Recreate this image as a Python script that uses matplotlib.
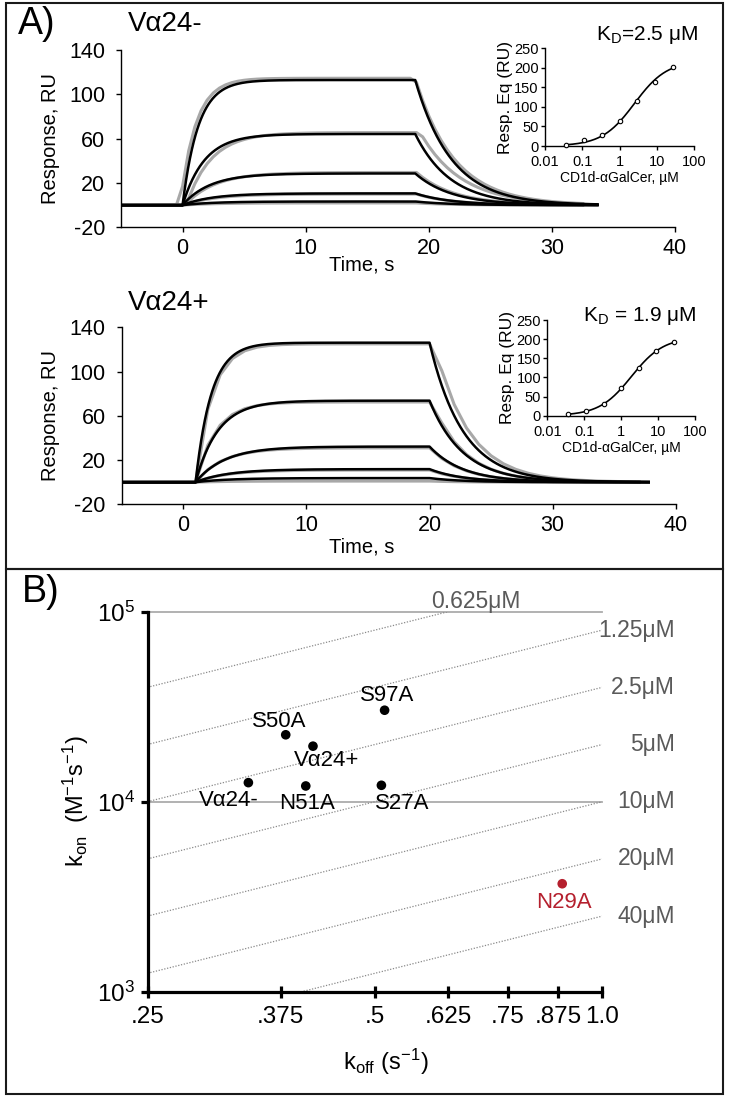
import numpy as np
import matplotlib
matplotlib.use("Agg")
import matplotlib.pyplot as plt
from matplotlib.patches import Rectangle
from matplotlib.ticker import FixedLocator, NullLocator, LogLocator, NullFormatter

plt.rcParams['font.family'] = ['Liberation Sans', 'DejaVu Sans']
plt.rcParams['mathtext.fontset'] = 'custom'
plt.rcParams['mathtext.rm'] = 'Liberation Sans'
plt.rcParams['mathtext.it'] = 'Liberation Sans:italic'
plt.rcParams['mathtext.bf'] = 'Liberation Sans:bold'
plt.rcParams['axes.unicode_minus'] = False

# ---------------- panel A : sensorgrams (1:1 fits)
# Va24-  (fit = black, raw = grey)
minus_t_on, minus_t_off, minus_t_end, minus_raw_end = 0.0, 18.9, 33.7, 32.8
minus_req = [112.9, 64.2, 28.6, 10.6, 3.3]
minus_kobs = [0.78, 0.56, 0.45, 0.42, 0.40]
minus_koff = [0.34, 0.35, 0.34, 0.34, 0.34]
minus_raw_on = [-0.2, 0.3, 0.2, 0.1, 0.0]
minus_raw_req = [114.5, 65.5, 29.5, 10.0, 2.0]
minus_raw_kobs = [0.80, 0.50, 0.42, 0.40, 0.40]
minus_raw_off = [18.9, 19.3, 19.0, 19.0, 19.0]
minus_raw_koff = [0.32, 0.30, 0.33, 0.34, 0.34]

# Va24+
plus_t_on, plus_t_off, plus_t_end, plus_raw_end = 1.0, 20.0, 37.8, 37.8
plus_req = [126.1, 73.7, 32.2, 11.8, 3.7]
plus_kobs = [0.78, 0.55, 0.42, 0.38, 0.37]
plus_koff = [0.37, 0.37, 0.37, 0.37, 0.37]
plus_raw_on = [1.0, 1.0, 1.0, 1.0, 1.0]
plus_raw_req = [125.0, 72.5, 31.0, 11.0, 1.0]
plus_raw_kobs = [0.75, 0.62, 0.46, 0.40, 0.40]
plus_raw_off = [20.4, 20.2, 20.0, 20.0, 20.0]
plus_raw_koff = [0.36, 0.38, 0.37, 0.37, 0.37]

# insets: steady state response vs CD1d-aGalCer (uM)
conc = [0.037, 0.111, 0.333, 1.0, 3.0, 9.0, 27.0]
minus_eq = [2, 15, 28, 65, 116, 165, 201]
plus_eq = [4, 11, 31, 72, 124, 169, 192]
kd_minus, rmax_minus = 2.5, 218.0
kd_plus, rmax_plus = 1.9, 205.0

# ---------------- panel B : kon / koff map
mutants = ['Vα24-', 'Vα24+', 'S50A', 'N51A', 'S97A', 'S27A', 'N29A']
koff_vals = [0.340, 0.414, 0.381, 0.405, 0.515, 0.510, 0.885]
kon_vals = [1.26e4, 1.96e4, 2.25e4, 1.21e4, 3.03e4, 1.22e4, 3.7e3]
mut_colors = ['black'] * 6 + ['#b5202e']
lab_offsets = [(-14.2, -13.2), (9.6, -10.3), (-4.9, 9.8), (0.7, -12.5),
               (2.0, 10.8), (15.3, -13.0), (1.2, -13.8)]
kd_lines = [0.625, 1.25, 2.5, 5, 10, 20, 40]
kd_labels = ['0.625μM', '1.25μM', '2.5μM', '5μM', '10μM', '20μM', '40μM']
kd_scale = 1e-5  # iso-affinity lines as drawn in the original
koff_ticks = [0.25, 0.375, 0.5, 0.625, 0.75, 0.875, 1.0]
koff_ticklabels = ['.25', '.375', '.5', '.625', '.75', '.875', '1.0']

W, H = 729.0, 1100.0
fig = plt.figure(figsize=(W / 100, H / 100), dpi=100)


def box(l, t, r, b):
    return [l / W, 1 - b / H, (r - l) / W, (b - t) / H]


def fpos(x, y):
    return x / W, 1 - y / H


def response(t, t_on, t_off, req, kobs, koff):
    r = np.zeros_like(t)
    a = (t >= t_on) & (t <= t_off)
    r[a] = req * (1 - np.exp(-kobs * (t[a] - t_on)))
    r_off = req * (1 - np.exp(-kobs * (t_off - t_on)))
    d = t > t_off
    r[d] = r_off * np.exp(-koff * (t[d] - t_off))
    return r


def sensorgram(ax, t_on, t_off, t_end, req, kobs, koff,
               raw_end, raw_on, raw_req, raw_kobs, raw_off, raw_koff, raw_step):
    tr = np.arange(-5, raw_end + 1e-6, raw_step)
    for i in range(len(raw_req)):
        ax.plot(tr, response(tr, raw_on[i], raw_off[i], raw_req[i], raw_kobs[i], raw_koff[i]),
                color='#a8a8a8', lw=2.2, solid_joinstyle='round', zorder=2)
    t = np.arange(-5, t_end + 1e-6, 0.05)
    for i in range(len(req)):
        ax.plot(t, response(t, t_on, t_off, req[i], kobs[i], koff[i]),
                color='black', lw=1.8, zorder=3)
    ax.set_xlim(-5, 40)
    ax.set_ylim(-20, 140)
    ax.set_xticks([0, 10, 20, 30, 40])
    ax.set_yticks([-20, 20, 60, 100, 140])
    for s in ['top', 'right']:
        ax.spines[s].set_visible(False)
    for s in ['left', 'bottom']:
        ax.spines[s].set_linewidth(1.0)
    ax.tick_params(axis='both', direction='out', length=3.5, width=1.0, labelsize=15.5)
    ax.tick_params(axis='y', pad=8)
    ax.tick_params(axis='x', pad=4)
    ax.patch.set_alpha(0)


def inset(ax, eq, kd, rmax):
    cc = np.logspace(np.log10(conc[0]), np.log10(conc[-1]), 200)
    ax.plot(cc, rmax * cc / (kd + cc), color='black', lw=1.2, zorder=2)
    ax.plot(conc, eq, 'o', ms=3.2, mfc='white', mec='black', mew=0.8, zorder=3, clip_on=False)
    ax.set_xscale('log')
    ax.set_xlim(0.01, 100)
    ax.set_ylim(0, 250)
    ax.set_xticks([0.01, 0.1, 1, 10, 100])
    ax.set_xticklabels(['0.01', '0.1', '1', '10', '100'])
    ax.xaxis.set_minor_locator(LogLocator(base=10, subs=np.arange(2, 10)))
    ax.xaxis.set_minor_formatter(NullFormatter())
    ax.set_yticks([0, 50, 100, 150, 200, 250])
    for s in ['top', 'right']:
        ax.spines[s].set_visible(False)
    for s in ['left', 'bottom']:
        ax.spines[s].set_linewidth(1.0)
    ax.tick_params(axis='both', which='major', direction='out', length=3, width=1.0,
                   labelsize=10.5)
    ax.tick_params(axis='y', which='major', pad=1.5)
    ax.tick_params(axis='x', which='major', pad=3.5)
    ax.tick_params(axis='x', which='minor', direction='out', length=2, width=0.7)
    ax.set_ylabel('Resp. Eq (RU)', fontsize=12.5, labelpad=1)
    ax.set_xlabel('CD1d-αGalCer, µM', fontsize=10, labelpad=1.5)
    ax.patch.set_alpha(0)


# ---- panel A
ax1 = fig.add_axes(box(121, 50, 675, 227.3))
sensorgram(ax1, minus_t_on, minus_t_off, minus_t_end, minus_req, minus_kobs, minus_koff,
           minus_raw_end, minus_raw_on, minus_raw_req, minus_raw_kobs, minus_raw_off,
           minus_raw_koff, 0.5)
ax2 = fig.add_axes(box(121.7, 327.3, 675.8, 504.3))
sensorgram(ax2, plus_t_on, plus_t_off, plus_t_end, plus_req, plus_kobs, plus_koff,
           plus_raw_end, plus_raw_on, plus_raw_req, plus_raw_kobs, plus_raw_off,
           plus_raw_koff, 1.0)

in1 = fig.add_axes(box(545, 48.3, 694.3, 146))
inset(in1, minus_eq, kd_minus, rmax_minus)
in2 = fig.add_axes(box(547.3, 320, 695, 415.7))
inset(in2, plus_eq, kd_plus, rmax_plus)

fig.text(*fpos(18, 24), 'A)', fontsize=27, ha='left', va='center')
fig.text(*fpos(128, 24), 'Vα24-', fontsize=20, ha='left', va='center')
fig.text(*fpos(128, 303), 'Vα24+', fontsize=20, ha='left', va='center')
fig.text(*fpos(698, 35), r'K$_{\rm D}$=2.5 μM', fontsize=15, ha='right', va='center')
fig.text(*fpos(697, 316), r'K$_{\rm D}$ = 1.9 μM', fontsize=15, ha='right', va='center')
for yc in [138.6, 415.8]:
    fig.text(*fpos(51, yc), 'Response, RU', fontsize=14.5, rotation=90, ha='center', va='center')
for yc in [265, 546.7]:
    fig.text(*fpos(362, yc), 'Time, s', fontsize=14.5, ha='center', va='center')

# ---- panel B
axb = fig.add_axes(box(147.5, 611.7, 602.3, 991.7))
axb.set_xscale('log')
axb.set_yscale('log')
axb.set_xlim(0.25, 1.0)
axb.set_ylim(1e3, 1e5)

for y in [1e5, 1e4]:
    axb.plot([0.25, 1.0], [y, y], color='#ababab', lw=1.3, zorder=1, clip_on=False)
kline = np.array([0.25, 1.0])
for kd, lab in zip(kd_lines, kd_labels):
    axb.plot(kline, kline / (kd * kd_scale), color='#8a8a8a', lw=0.9,
             ls=(0, (1, 1.3)), zorder=1)
    kon_end = 1.0 / (kd * kd_scale)
    if kon_end <= 1e5:
        axb.annotate(lab, xy=(1.0, kon_end), xytext=(52.5, 0), textcoords='offset points',
                     ha='right', va='center', fontsize=16.5, color='#5a5a5a',
                     annotation_clip=False)
    else:
        axb.annotate(lab, xy=(kd * kd_scale * 1e5, 1e5), xytext=(19.9, 7.2),
                     textcoords='offset points', ha='center', va='center', fontsize=16.5,
                     color='#5a5a5a', annotation_clip=False)

axb.scatter(koff_vals, kon_vals, s=48, c=mut_colors, zorder=4, clip_on=False, linewidths=0)
for name, x, y, c, off in zip(mutants, koff_vals, kon_vals, mut_colors, lab_offsets):
    axb.annotate(name, xy=(x, y), xytext=off, textcoords='offset points',
                 ha='center', va='center', fontsize=16, color=c)

axb.xaxis.set_major_locator(FixedLocator(koff_ticks))
axb.set_xticklabels(koff_ticklabels)
axb.xaxis.set_minor_locator(NullLocator())
axb.yaxis.set_major_locator(FixedLocator([1e3, 1e4, 1e5]))
axb.set_yticklabels([r'$10^{3}$', r'$10^{4}$', r'$10^{5}$'])
axb.yaxis.set_minor_locator(NullLocator())
for s in ['top', 'right']:
    axb.spines[s].set_visible(False)
for s in ['left', 'bottom']:
    axb.spines[s].set_linewidth(2.3)
axb.tick_params(axis='y', direction='out', length=5, width=2.3, labelsize=17.5, pad=4)
axb.tick_params(axis='x', direction='inout', length=8, width=2.3, labelsize=17.5, pad=6)
axb.patch.set_alpha(0)

fig.text(*fpos(22, 592), 'B)', fontsize=27, ha='left', va='center')
fig.text(*fpos(386, 1061.7), r'k$_{\rm off}$ (s$^{-1}$)', fontsize=17, ha='center', va='center')
fig.text(*fpos(76, 801.7), r'k$_{\rm on}$  (M$^{-1}$s$^{-1}$)', fontsize=17, rotation=90,
         ha='center', va='center')

# panel frames
for top, bot in [(2.5, 569.3), (569.3, 1094)]:
    fig.add_artist(Rectangle(fpos(5.5, bot), (723 - 5.5) / W, (bot - top) / H,
                             transform=fig.transFigure, fill=False, lw=1.5, ec='#1a1a1a'))

fig.savefig('out.png', dpi=100)
